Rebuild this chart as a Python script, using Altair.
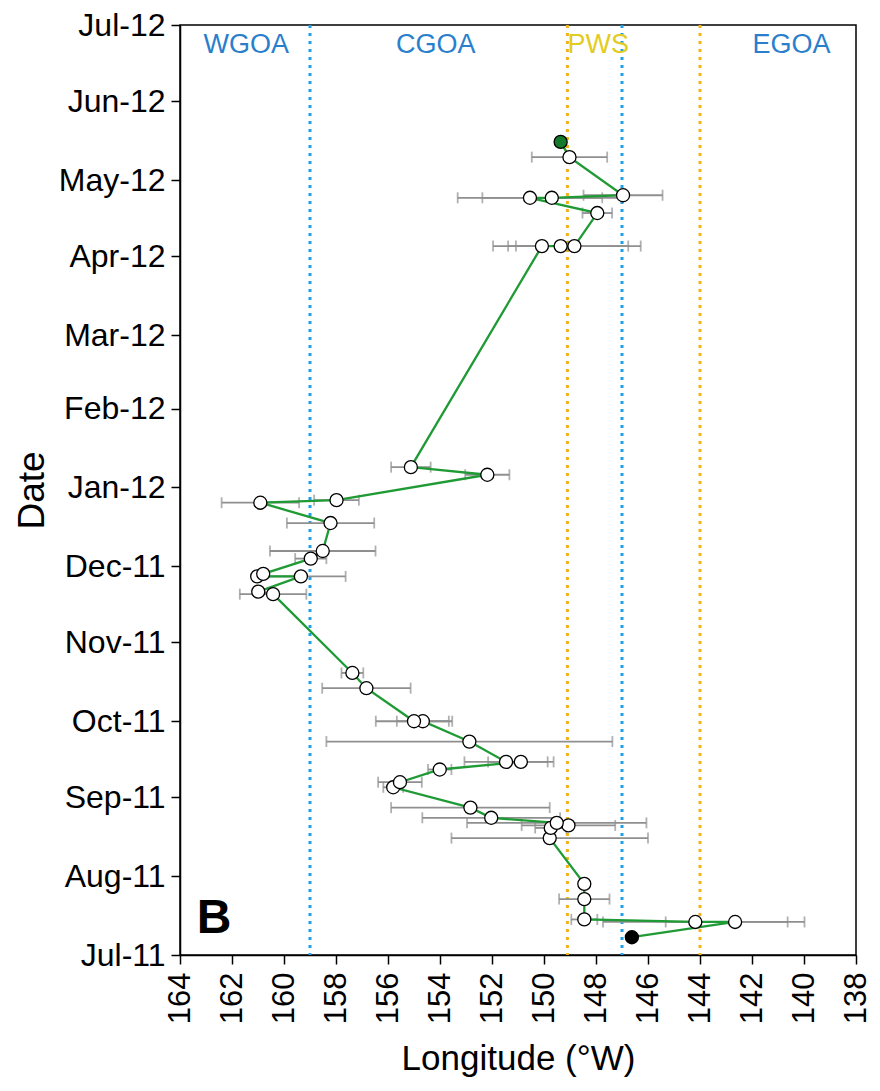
import altair as alt
import pandas as pd

# ---- data ----
dates = [
    "2011-07-08", "2011-07-14", "2011-07-14", "2011-07-15", "2011-07-23", "2011-07-29",
    "2011-08-16", "2011-08-20", "2011-08-21", "2011-08-22", "2011-08-24", "2011-08-28",
    "2011-09-05", "2011-09-07", "2011-09-12", "2011-09-15", "2011-09-15", "2011-09-23",
    "2011-10-01", "2011-10-01", "2011-10-14", "2011-10-20",
    "2011-11-20", "2011-11-21", "2011-11-27", "2011-11-27", "2011-11-28",
    "2011-12-04", "2011-12-07", "2011-12-18", "2011-12-26", "2011-12-27",
    "2012-01-06", "2012-01-09",
    "2012-04-05", "2012-04-05", "2012-04-05", "2012-04-18",
    "2012-04-24", "2012-04-24", "2012-04-25", "2012-05-10", "2012-05-16",
]
lons = [
    146.62, 142.65, 144.18, 148.45, 148.45, 148.45,
    149.78, 149.74, 149.06, 149.51, 152.03, 152.83,
    155.80, 155.54, 154.01, 150.89, 151.46, 152.87,
    154.66, 155.00, 156.83, 157.37,
    160.42, 160.99, 159.35, 161.03, 160.80,
    158.97, 158.51, 158.21, 160.91, 157.98,
    152.18, 155.12,
    150.08, 149.36, 148.83, 147.95,
    150.54, 149.70, 146.96, 149.02, 149.36,
]
errs = [
    0.0, 2.67, 3.55, 0.50, 0.97, 0.0,
    3.78, 0.60, 1.80, 3.45, 2.65, 3.05,
    0.38, 0.84, 0.45, 1.26, 1.60, 5.50,
    1.00, 1.47, 1.70, 0.42,
    1.28, 0.0, 1.72, 0.0, 0.0,
    0.60, 2.03, 1.68, 1.49, 0.86,
    0.85, 0.76,
    1.00, 2.60, 2.55, 0.57,
    2.78, 2.67, 1.52, 1.45, 0.0,
]
kinds = ["start"] + ["mid"] * (len(dates) - 2) + ["end"]

x_ticks = [164, 162, 160, 158, 156, 154, 152, 150, 148, 146, 144, 142, 140, 138]

boundary_lons = [159.0, 149.1, 147.0, 144.0]
boundary_colors = ["#1f9fe8", "#f0b41a", "#1f9fe8", "#f0b41a"]

region_names = ["WGOA", "CGOA", "PWS", "EGOA"]
region_label_lons = [161.45, 154.16, 147.91, 140.48]
region_colors = ["#2a7fcc", "#2a7fcc", "#e2cc22", "#2a7fcc"]

panel_letter = ["B"]

# ---- tables ----
df = pd.DataFrame({"date": dates, "lon": lons, "err": errs, "kind": kinds})
df["idx"] = range(len(df))
df["lo"] = df["lon"] - df["err"]
df["hi"] = df["lon"] + df["err"]
df["fill"] = df["kind"].map({"start": "#000000", "mid": "#ffffff", "end": "#157a2c"})

bounds = pd.DataFrame({"lon": boundary_lons, "color": boundary_colors})
regions = pd.DataFrame({"name": region_names, "lon": region_label_lons, "color": region_colors})
letter = pd.DataFrame({"t": panel_letter})

FONT = "Liberation Sans"
W, H = 676, 930

xscale = alt.Scale(domain=[138, 164], reverse=True, nice=False, zero=False)
yscale = alt.Scale(
    type="utc",
    domain=[alt.DateTime(year=2011, month=7, date=1, utc=True),
            alt.DateTime(year=2012, month=7, date=1, utc=True)],
    nice=False,
)

xaxis = alt.Axis(
    title="Longitude (°W)", values=x_ticks, labelAngle=270, labelAlign="right",
    labelBaseline="middle", labelFontSize=31, labelPadding=8, tickSize=9,
    tickColor="black", domainColor="black", tickWidth=1.5, domainWidth=1.5,
    labelColor="black", grid=False, labelOverlap=False, labelBound=False,
    titleFontSize=35, titleFontWeight="normal", titleColor="black",
    titleX=W / 2, titleY=103, titleAlign="center", titleBaseline="middle",
)
yaxis = alt.Axis(
    title="Date", tickCount="month",
    labelExpr="utcFormat(datum.value, '%b-%y')",
    labelFontSize=32, labelPadding=6, tickSize=9, tickColor="black",
    domainColor="black", tickWidth=1.5, domainWidth=1.5, labelColor="black",
    grid=False, labelOverlap=False, labelBound=False, labelBaseline="middle",
    titleFontSize=37, titleFontWeight="normal", titleColor="black",
    titleAngle=270, titleX=-148, titleY=H / 2, titleAlign="center", titleBaseline="middle",
)

base = alt.Chart(df)

rules = alt.Chart(bounds).mark_rule(strokeWidth=3, strokeDash=[3, 5]).encode(
    x=alt.X("lon:Q", scale=xscale, axis=xaxis),
    color=alt.Color("color:N", scale=None),
)

labels = alt.Chart(regions).mark_text(font=FONT, fontSize=27, baseline="middle", align="center").encode(
    x=alt.X("lon:Q", scale=xscale),
    y=alt.value(20),
    text="name:N",
    color=alt.Color("color:N", scale=None),
)

ebars = base.transform_filter("datum.err > 0").mark_rule(color="#8f8f8f", strokeWidth=1.8).encode(
    x=alt.X("lo:Q", scale=xscale, axis=xaxis),
    x2="hi:Q",
    y=alt.Y("date:T", scale=yscale, axis=yaxis),
)
cap_lo = base.transform_filter("datum.err > 0").mark_tick(orient="vertical", color="#8f8f8f", size=11, thickness=1.8).encode(
    x=alt.X("lo:Q", scale=xscale),
    y=alt.Y("date:T", scale=yscale),
)
cap_hi = base.transform_filter("datum.err > 0").mark_tick(orient="vertical", color="#8f8f8f", size=11, thickness=1.8).encode(
    x=alt.X("hi:Q", scale=xscale),
    y=alt.Y("date:T", scale=yscale),
)

line = base.mark_line(color="#1f9a35", strokeWidth=2.3).encode(
    x=alt.X("lon:Q", scale=xscale),
    y=alt.Y("date:T", scale=yscale),
    order="idx:Q",
)

points = base.mark_point(shape="circle", filled=True, size=170, stroke="black", strokeWidth=1.3, opacity=1).encode(
    x=alt.X("lon:Q", scale=xscale),
    y=alt.Y("date:T", scale=yscale),
    fill=alt.Fill("fill:N", scale=None),
)

btext = alt.Chart(letter).mark_text(font=FONT, fontSize=48, fontWeight="bold", align="center", baseline="alphabetic", color="black").encode(
    text="t:N", x=alt.value(34), y=alt.value(908),
)

chart = alt.layer(rules, labels, ebars, cap_lo, cap_hi, line, points, btext).properties(
    width=W, height=H,
    autosize=alt.AutoSizeParams(type="none"),
    padding={"left": 172, "top": 17, "right": 16, "bottom": 128},
).configure(font=FONT).configure_view(stroke="black", strokeWidth=1.5)

chart.save("out.html", embed_options={"renderer": "svg", "actions": False})
